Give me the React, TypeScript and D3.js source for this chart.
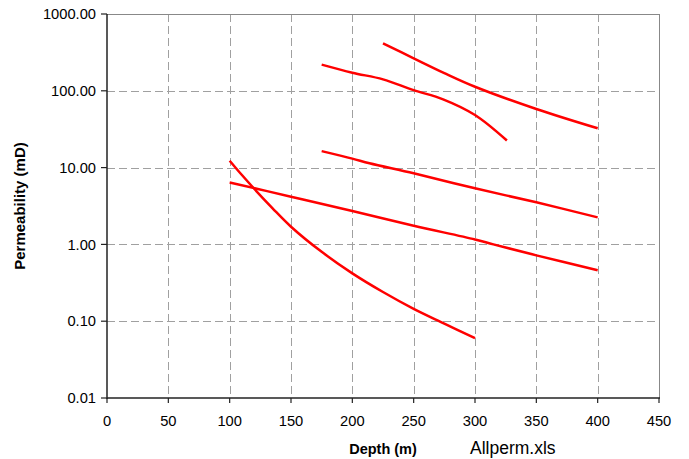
import React from "react";
import * as d3 from "d3";

const xTicks = [0, 50, 100, 150, 200, 250, 300, 350, 400, 450];
const yTicks = [0.01, 0.1, 1, 10, 100, 1000];

const s1Depth = [225, 250, 275, 300, 350, 400];
const s1Perm = [415, 265, 170, 113, 58, 32.5];
const s2Depth = [175, 200, 225, 250, 274, 300, 326];
const s2Perm = [219, 172, 141, 102, 77.5, 48.4, 22.5];
const s3Depth = [175, 200, 214, 250, 300, 350, 400];
const s3Perm = [16.4, 13.1, 11.4, 8.43, 5.37, 3.53, 2.25];
const s4Depth = [100, 150, 200, 250, 300, 315, 350, 400];
const s4Perm = [6.4, 4.18, 2.72, 1.75, 1.16, 1.0, 0.72, 0.46];
const s5Depth = [100, 110, 120, 135, 150, 175, 200, 225, 250, 275, 300];
const s5Perm = [12.3, 8.0, 5.3, 2.95, 1.7, 0.8, 0.42, 0.24, 0.145, 0.093, 0.06];

const series = [
  [s1Depth, s1Perm],
  [s2Depth, s2Perm],
  [s3Depth, s3Perm],
  [s4Depth, s4Perm],
  [s5Depth, s5Perm],
];

export default function App() {
  const left = 107, right = 659, top = 14, bottom = 398;
  const x = d3.scaleLinear().domain([0, 450]).range([left, right]);
  const y = d3.scaleLog().domain([0.01, 1000]).range([bottom, top]);
  const line = d3
    .line<[number, number]>()
    .x((d) => x(d[0]))
    .y((d) => y(d[1]))
    .curve(d3.curveCatmullRom.alpha(0.5));
  const fmt = d3.format(".2f");
  const font = "'Liberation Sans', Arial, sans-serif";
  const grid = "#a0a0a0";

  return (
    <svg
      width={689}
      height={459}
      style={{ position: "absolute", left: 0, top: 0, background: "#fff" }}
      fontFamily={font}
    >
      {/* gridlines */}
      {xTicks.slice(1, -1).map((t) => (
        <line key={"gx" + t} x1={Math.round(x(t)) + 0.5} x2={Math.round(x(t)) + 0.5} y1={top} y2={bottom}
          stroke={grid} strokeDasharray="8,4" strokeWidth={1} />
      ))}
      {yTicks.slice(1, -1).map((t) => (
        <line key={"gy" + t} x1={left} x2={right} y1={Math.round(y(t)) + 0.5} y2={Math.round(y(t)) + 0.5}
          stroke={grid} strokeDasharray="8,4" strokeWidth={1} />
      ))}
      {/* top/right border */}
      <line x1={left} x2={right} y1={top + 0.5} y2={top + 0.5} stroke="#888" strokeWidth={1} />
      <line x1={right + 0.5} x2={right + 0.5} y1={top} y2={bottom} stroke="#888" strokeWidth={1} />

      {/* series */}
      {series.map(([ds, ps], i) => {
        const pts = ds.map((d, j) => [d, ps[j]] as [number, number]);
        return <path key={"s" + i} d={line(pts) || ""} fill="none" stroke="#ff0000" strokeWidth={2.5} strokeLinejoin="round" />;
      })}

      {/* axes */}
      <line x1={left} x2={left} y1={top} y2={bottom + 1} stroke="#222" strokeWidth={1.5} />
      <line x1={left} x2={right + 1} y1={bottom} y2={bottom} stroke="#222" strokeWidth={1.5} />
      {yTicks.map((t) => (
        <g key={"yt" + t}>
          <line x1={left - 6} x2={left} y1={y(t)} y2={y(t)} stroke="#222" strokeWidth={1.2} />
          <text x={96} y={y(t)} dy="0.35em" textAnchor="end" fontSize={14.7} fill="#000">
            {fmt(t)}
          </text>
        </g>
      ))}
      {xTicks.map((t) => (
        <g key={"xt" + t}>
          <line x1={x(t)} x2={x(t)} y1={bottom} y2={bottom + 5} stroke="#222" strokeWidth={1.2} />
          <text x={x(t)} y={425.5} textAnchor="middle" fontSize={14.7} fill="#000">
            {t}
          </text>
        </g>
      ))}

      {/* axis titles */}
      <text x={(left + right) / 2} y={454} textAnchor="middle" fontSize={14.5} fontWeight="bold" fill="#000">
        Depth (m)
      </text>
      <text x={470} y={454} fontSize={17.5} fill="#000">
        Allperm.xls
      </text>
      <text
        transform={`translate(25, ${(top + bottom) / 2}) rotate(-90)`}
        textAnchor="middle"
        fontSize={15}
        fontWeight="bold"
        fill="#000"
      >
        Permeability (mD)
      </text>
    </svg>
  );
}
